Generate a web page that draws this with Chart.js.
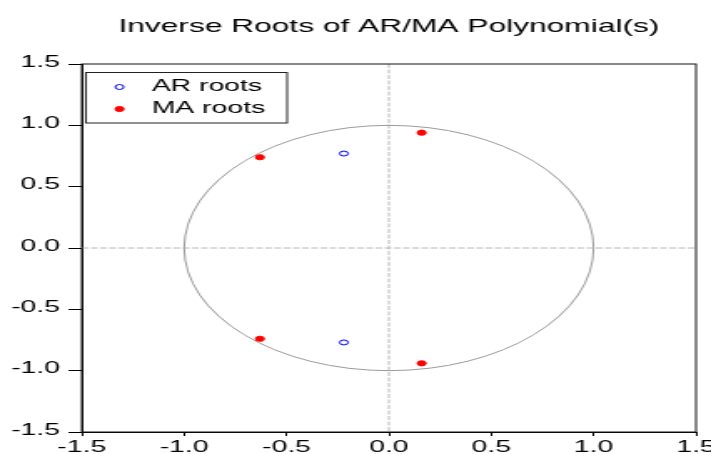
<!DOCTYPE html>
<html><head><meta charset="utf-8">
<script src="https://cdn.jsdelivr.net/npm/chart.js@4/dist/chart.umd.min.js"></script>
<style>html,body{margin:0;padding:0;background:#fff;overflow:hidden}
#c{display:block;width:711px !important;height:454px !important}</style>
</head><body>
<canvas id="c" width="426" height="454" style="width:711px;height:454px"></canvas>
<script>
const chartTitle = 'Inverse Roots of AR/MA Polynomial(s)';
const seriesNames = ['AR roots', 'MA roots'];
const arReal = [-0.22, -0.22];
const arImag = [0.77, -0.77];
const maReal = [-0.63, -0.63, 0.16, 0.16];
const maImag = [0.74, -0.74, 0.94, -0.94];
const xTicks = [-1.5, -1.0, -0.5, 0.0, 0.5, 1.0, 1.5];
const yTicks = [-1.5, -1.0, -0.5, 0.0, 0.5, 1.0, 1.5];
const unitRadius = 1;

const FONT = 'Liberation Sans, Arial, sans-serif';

const toPoints = (re, im) => re.map((v, i) => ({x: v, y: im[i]}));

const backgroundPlugin = {
  id: 'unitCircle',
  beforeDatasetsDraw(chart) {
    const {ctx, chartArea: a, scales: {x, y}} = chart;
    const x0 = x.getPixelForValue(0), y0 = y.getPixelForValue(0);
    ctx.save();
    ctx.beginPath(); ctx.rect(a.left, a.top, a.right - a.left, a.bottom - a.top); ctx.clip();
    ctx.strokeStyle = '#b8b8b8'; ctx.lineWidth = 1; ctx.setLineDash([4, 1.5]);
    ctx.beginPath();
    ctx.moveTo(x0, a.top); ctx.lineTo(x0, a.bottom);
    ctx.moveTo(a.left, y0); ctx.lineTo(a.right, y0);
    ctx.stroke();
    ctx.setLineDash([]);
    ctx.strokeStyle = '#9a9a9a';
    ctx.beginPath();
    ctx.ellipse(x0, y0, x.getPixelForValue(unitRadius) - x0, y0 - y.getPixelForValue(unitRadius), 0, 0, Math.PI * 2);
    ctx.stroke();
    ctx.restore();
  },
  afterDraw(chart) {
    const {ctx, chartArea: a} = chart;
    ctx.save();
    ctx.strokeStyle = '#111'; ctx.lineWidth = 1;
    ctx.strokeRect(a.left, a.top, a.right - a.left, a.bottom - a.top);
    // title
    ctx.fillStyle = '#000';
    ctx.font = '19px ' + FONT;
    ctx.textAlign = 'center'; ctx.textBaseline = 'alphabetic';
    ctx.fillText(chartTitle, (a.left + a.right) / 2, 32);
    // legend
    ctx.strokeStyle = '#222';
    ctx.strokeRect(51.5, 72.5, 120.5, 50.5);
    ctx.font = '17px ' + FONT;
    ctx.textAlign = 'left';
    chart.data.datasets.forEach((ds, i) => {
      const my = 87 + i * 22;
      ctx.beginPath();
      ctx.arc(71.6, my, ds.pointRadius, 0, Math.PI * 2);
      ctx.fillStyle = ds.backgroundColor; ctx.fill();
      ctx.lineWidth = ds.borderWidth; ctx.strokeStyle = ds.borderColor; ctx.stroke();
      ctx.fillStyle = '#000';
      ctx.fillText(ds.label, 90.9, 90.5 + i * 22.5);
    });
    ctx.restore();
  }
};

new Chart(document.getElementById('c'), {
  type: 'scatter',
  data: {
    datasets: [
      {label: seriesNames[0], data: toPoints(arReal, arImag), pointRadius: 2.5, pointHoverRadius: 2.5,
       backgroundColor: '#ffffff', borderColor: '#0000ff', borderWidth: 1},
      {label: seriesNames[1], data: toPoints(maReal, maImag), pointRadius: 2.6, pointHoverRadius: 2.6,
       backgroundColor: '#ff0000', borderColor: '#ff0000', borderWidth: 1}
    ]
  },
  options: {
    responsive: false,
    animation: false,
    devicePixelRatio: 1,
    events: [],
    layout: {padding: {top: 64, right: 9, left: 0, bottom: 0}},
    plugins: {legend: {display: false}, title: {display: false}, tooltip: {enabled: false}},
    scales: {
      x: {
        type: 'linear', min: xTicks[0], max: xTicks[xTicks.length - 1],
        afterBuildTicks: s => { s.ticks = xTicks.map(v => ({value: v})); },
        afterFit: s => { s.height = 22; s.paddingLeft = 0; s.paddingRight = 0; },
        ticks: {callback: v => Number(v).toFixed(1), color: '#000', font: {family: FONT, size: 17}, padding: 1, maxRotation: 0, autoSkip: false},
        grid: {drawOnChartArea: false, drawTicks: true, tickLength: 4, tickColor: '#000'},
        border: {display: true, color: '#000', width: 1}
      },
      y: {
        type: 'linear', min: yTicks[0], max: yTicks[yTicks.length - 1],
        afterBuildTicks: s => { s.ticks = yTicks.map(v => ({value: v})); },
        afterFit: s => { s.width = 49; s.paddingTop = 0; s.paddingBottom = 0; },
        ticks: {callback: v => Number(v).toFixed(1), color: '#000', font: {family: FONT, size: 17}, padding: 5, labelOffset: -2, autoSkip: false},
        grid: {drawOnChartArea: false, drawTicks: true, tickLength: 8, tickColor: '#000'},
        border: {display: true, color: '#000', width: 1}
      }
    }
  },
  plugins: [backgroundPlugin]
});
</script>
</body></html>
